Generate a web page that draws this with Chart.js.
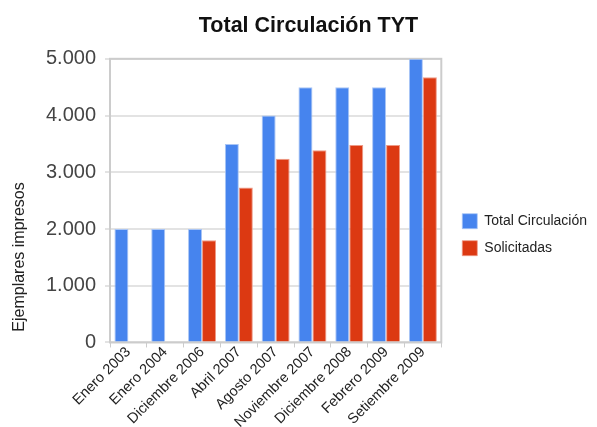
<!DOCTYPE html>
<html>
<head>
<meta charset="utf-8">
<script src="https://cdn.jsdelivr.net/npm/chart.js@4/dist/chart.umd.min.js"></script>
<style>
  html, body { margin: 0; padding: 0; background: #fff; }
  #wrap { width: 597px; height: 427px; }
</style>
</head>
<body>
<div id="wrap"><canvas id="tytChart"></canvas></div>
<script>
const categories = ["Enero 2003", "Enero 2004", "Diciembre 2006", "Abril 2007", "Agosto 2007",
  "Noviembre 2007", "Diciembre 2008", "Febrero 2009", "Setiembre 2009"];
const totalCirculacion = [2000, 2000, 2000, 3500, 4000, 4500, 4500, 4500, 5000];
const solicitadas = [null, null, 1800, 2730, 3240, 3390, 3480, 3480, 4675];
const yTicks = [0, 1000, 2000, 3000, 4000, 5000];

const FONT = "Arial, 'Liberation Sans', sans-serif";

// frame round the plot area + y axis title placed like the original
const framePlugin = {
  id: "frame",
  beforeDatasetsDraw(chart) {
    const { ctx, chartArea: a } = chart;
    ctx.save();
    ctx.strokeStyle = "#cccccc";
    ctx.lineWidth = 2;
    ctx.strokeRect(a.left, a.top, a.right - a.left, a.bottom - a.top);
    ctx.restore();
  },
  afterDraw(chart) {
    const { ctx } = chart;
    ctx.save();
    ctx.translate(20, 257);
    ctx.rotate(-Math.PI / 2);
    ctx.font = "16px " + FONT;
    ctx.fillStyle = "#222";
    ctx.textAlign = "center";
    ctx.textBaseline = "middle";
    ctx.fillText("Ejemplares impresos", 0, 0);
    ctx.restore();
  }
};

new Chart(document.getElementById("tytChart"), {
  type: "bar",
  data: {
    labels: categories,
    datasets: [
      {
        label: "Total Circulación",
        data: totalCirculacion,
        backgroundColor: "#4684ee",
        borderColor: "#a9c5f5",
        borderWidth: { left: 1, right: 1, top: 1 },
        categoryPercentage: 0.76,
        barPercentage: 1
      },
      {
        label: "Solicitadas",
        data: solicitadas,
        backgroundColor: "#dc3912",
        borderColor: "#ee9a86",
        borderWidth: { left: 1, right: 1, top: 1 },
        categoryPercentage: 0.76,
        barPercentage: 1
      }
    ]
  },
  options: {
    responsive: true,
    maintainAspectRatio: false,
    animation: false,
    layout: { padding: { left: 20, right: 0, top: 0, bottom: 0 } },
    plugins: {
      title: {
        display: true,
        text: "Total Circulación TYT",
        font: { family: FONT, size: 21.5, weight: "bold" },
        color: "#111",
        padding: { top: 13, bottom: 20 }
      },
      legend: {
        position: "right",
        maxWidth: 220,
        title: { display: true, text: " ", font: { size: 12 }, padding: 14 },
        labels: {
          font: { family: FONT, size: 14 },
          color: "#222",
          boxWidth: 15,
          boxHeight: 15,
          padding: 12
        }
      },
      tooltip: { enabled: false }
    },
    scales: {
      x: {
        grid: { display: true, drawOnChartArea: false, tickLength: 5, color: "#cccccc", offset: true },
        border: { display: false },
        ticks: {
          font: { family: FONT, size: 14.5 },
          color: "#222",
          maxRotation: 45,
          minRotation: 45,
          padding: -4
        }
      },
      y: {
        min: 0,
        max: 5000,
        afterBuildTicks(scale) { scale.ticks = yTicks.map(v => ({ value: v })); },
        afterFit(scale) { scale.width = 90; },
        grid: { color: "#e3e3e3", lineWidth: 2, drawTicks: true, tickLength: 5 },
        border: { display: false },
        ticks: {
          font: { family: FONT, size: 20 },
          color: "#444",
          padding: 9,
          callback: v => String(v).replace(/\B(?=(\d{3})+(?!\d))/g, ".")
        }
      },
      gap: {
        position: "right",
        display: true,
        grid: { display: false },
        border: { display: false },
        ticks: { display: false },
        afterFit(scale) { scale.width = 9; }
      }
    }
  },
  plugins: [framePlugin]
});
</script>
</body>
</html>
